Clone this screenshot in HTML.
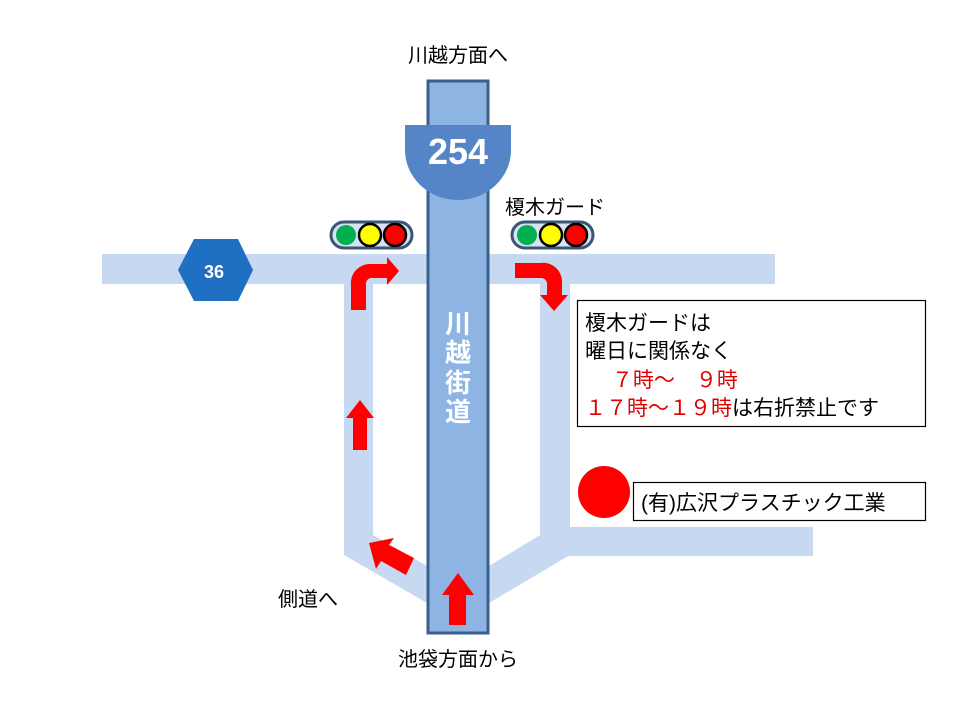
<!DOCTYPE html>
<html><head><meta charset="utf-8"><style>
html,body{margin:0;padding:0;background:#fff}
svg{display:block}
text{font-family:"Liberation Sans","Noto Sans CJK JP",sans-serif}
</style></head><body>
<svg width="960" height="720" viewBox="0 0 960 720" xmlns="http://www.w3.org/2000/svg">
<g fill="#c6d9f0">
<rect x="102" y="254" width="673" height="30"/>
<rect x="344" y="284" width="29" height="264"/>
<rect x="540" y="284" width="30" height="248"/>
<rect x="540" y="527" width="273" height="29"/>
<polygon points="344,535 373,535 427,566 427,603 344,555"/>
<polygon points="489,566 545,532 575,532 575,552 489,603"/>
</g>
<rect x="428" y="81" width="60" height="552" fill="#8eb4e3" stroke="#3a5f8a" stroke-width="3"/>
<path d="M405,125 H511 V150 A53,50 0 0 1 405,150 Z" fill="#5585c6"/>
<text x="458" y="164" text-anchor="middle" font-size="36" font-weight="bold" fill="#fff">254</text>
<g font-size="26" font-weight="bold" fill="#fff" text-anchor="middle">
<text x="458" y="333">川</text><text x="458" y="362">越</text><text x="458" y="392">街</text><text x="458" y="421">道</text>
</g>
<polygon points="178,270 194,239 238,239 253,270 238,301 194,301" fill="#1f6fc2"/>
<text x="214" y="278" text-anchor="middle" font-size="18" font-weight="bold" fill="#fff">36</text>
<g>
<rect x="331" y="222" width="81" height="26" rx="13" fill="#d9e2ef" stroke="#3a5577" stroke-width="3"/>
<circle cx="346" cy="235" r="10" fill="#00b050"/>
<circle cx="370" cy="235" r="11" fill="#ffff00" stroke="#000" stroke-width="2.5"/>
<circle cx="395" cy="235" r="11" fill="#ff0000" stroke="#000" stroke-width="2.5"/>
<rect x="512" y="222" width="81" height="26" rx="13" fill="#d9e2ef" stroke="#3a5577" stroke-width="3"/>
<circle cx="527" cy="235" r="10" fill="#00b050"/>
<circle cx="551" cy="235" r="11" fill="#ffff00" stroke="#000" stroke-width="2.5"/>
<circle cx="576" cy="235" r="11" fill="#ff0000" stroke="#000" stroke-width="2.5"/>
</g>
<g fill="#ff0000">
<path d="M351,310 V285 A19,19 0 0 1 370,264 H387 V257 L399,271 L387,285 V278 H373 A6,6 0 0 0 366,285 V310 Z"/>
<path d="M515,263 H540 A19,19 0 0 1 562,282 V295 H568 L554,311 L540,295 H547 V285 A6,6 0 0 0 541,278 H515 Z"/>
<path d="M353,450 V418 H346 L360,400 L374,418 H367 V450 Z"/>
<path d="M449,625 V595 H442 L458,573 L474,595 H466 V625 Z"/>
<path d="M414,558 L406,575 L381,561 L376,569 L369,543 L394,538 L389,545 Z"/>
</g>
<g font-size="20" fill="#000">
<text x="458" y="62" text-anchor="middle">川越方面へ</text>
<text x="505" y="214">榎木ガード</text>
<text x="278" y="606">側道へ</text>
<text x="458" y="666" text-anchor="middle">池袋方面から</text>
</g>
<rect x="577.5" y="300.5" width="348" height="126" fill="#fff" stroke="#000" stroke-width="1.2"/>
<g font-size="21">
<text x="585" y="330" fill="#000">榎木ガードは</text>
<text x="585" y="358" fill="#000">曜日に関係なく</text>
<text x="585" y="387" fill="#e00000">　 ７時～　９時</text>
<text x="585" y="415"><tspan fill="#e00000">１７時～１９時</tspan><tspan fill="#000">は右折禁止です</tspan></text>
</g>
<circle cx="604" cy="492" r="26" fill="#ff0000"/>
<rect x="633.5" y="482.5" width="292" height="38" fill="#fff" stroke="#000" stroke-width="1.2"/>
<text x="641" y="510" font-size="21" fill="#000">(有)広沢プラスチック工業</text>
</svg>
</body></html>
